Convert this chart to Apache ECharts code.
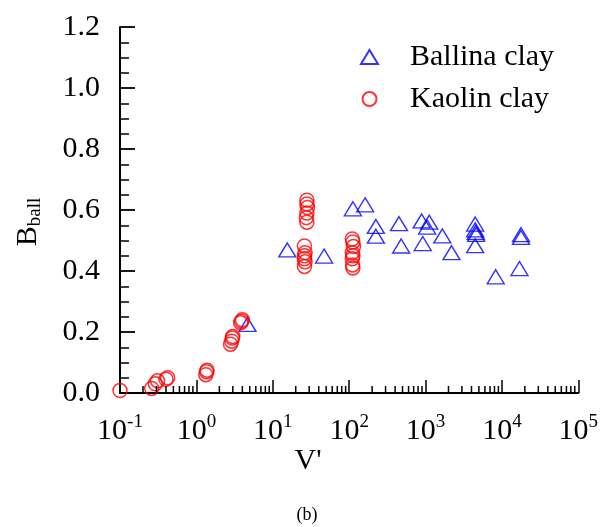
<!DOCTYPE html>
<html>
<head>
<meta charset="utf-8">
<script src="https://cdn.jsdelivr.net/npm/echarts@6/dist/echarts.min.js"></script>
<style>
  html, body { margin: 0; padding: 0; background: #fff; }
  #chart { width: 601px; height: 527px; }
</style>
</head>
<body>
<div id="chart"></div>
<script>
// Ballina clay: V' and B_ball
const ballinaV = [15.5, 47, 4.67, 112, 162, 224, 224, 450, 480, 890, 1120, 1050, 920, 1660, 2190,
                  4470, 4470, 4550, 4600, 4470, 8300, 17800, 17800, 17000];
const ballinaB = [0.469, 0.449, 0.225, 0.604, 0.617, 0.546, 0.514, 0.555, 0.482, 0.564, 0.560, 0.544, 0.490, 0.515, 0.460,
                  0.554, 0.535, 0.527, 0.520, 0.483, 0.381, 0.519, 0.510, 0.408];

// Kaolin clay: V' and B_ball
const kaolinV = [0.1, 0.26, 0.29, 0.31, 0.40, 0.42,
                 1.33, 1.36, 1.38,
                 2.8, 2.9, 2.95, 3.0,
                 3.8, 3.9, 4.0,
                 28, 28, 28.5, 28, 27.5, 28,
                 26, 26.5, 26, 26, 26.5, 26,
                 110, 112, 114, 110, 112, 110, 111, 112];
const kaolinB = [0.008, 0.015, 0.030, 0.040, 0.045, 0.050,
                 0.060, 0.070, 0.075,
                 0.160, 0.170, 0.180, 0.185,
                 0.230, 0.235, 0.240,
                 0.632, 0.620, 0.608, 0.590, 0.575, 0.560,
                 0.482, 0.460, 0.450, 0.440, 0.430, 0.415,
                 0.505, 0.495, 0.480, 0.460, 0.450, 0.440, 0.420, 0.410];

// x axis decade exponents shown as 10^n
const xExponents = ['-1', '0', '1', '2', '3', '4', '5'];
const yTickLabels = ['0.0', '0.2', '0.4', '0.6', '0.8', '1.0', '1.2'];

// intermediate log ticks 2..9 in every decade
const xMinorTicks = [];
for (let e = -1; e < 5; e++) {
  for (let m = 2; m <= 9; m++) xMinorTicks.push(m * Math.pow(10, e));
}

const serif = '"Liberation Serif", "DejaVu Serif", serif';
const pairs = (xs, ys) => xs.map((x, i) => [x, ys[i]]);

const chart = echarts.init(document.getElementById('chart'), null, { renderer: 'canvas' });

chart.setOption({
  animation: false,
  backgroundColor: '#fff',
  grid: { left: 120, right: 21, top: 27, bottom: 134, containLabel: false },
  xAxis: {
    type: 'log', logBase: 10, min: 0.1, max: 100000,
    axisLine: { show: true, lineStyle: { color: '#000', width: 2 } },
    axisTick: { show: true, inside: true, length: 13, lineStyle: { color: '#000', width: 1.5 } },
    minorTick: { show: false },
    splitLine: { show: false },
    axisLabel: {
      margin: 20,
      fontFamily: serif,
      color: '#000',
      formatter: function (v) {
        const idx = Math.round(Math.log10(v)) + 1;
        return '{b|10}{s|' + xExponents[idx] + '}';
      },
      rich: {
        b: { fontSize: 30, fontFamily: serif, color: '#000', verticalAlign: 'bottom' },
        s: { fontSize: 19, fontFamily: serif, color: '#000', verticalAlign: 'top', padding: [0, 0, 14, 0] }
      }
    }
  },
  yAxis: {
    type: 'value', min: 0, max: 1.2, interval: 0.2,
    axisLine: { show: true, lineStyle: { color: '#000', width: 2 } },
    axisTick: { show: true, inside: true, length: 15, lineStyle: { color: '#000', width: 1.8 } },
    minorTick: { show: true, splitNumber: 4, length: 9, lineStyle: { color: '#000', width: 1.5 } },
    splitLine: { show: false },
    axisLabel: {
      margin: 20, fontSize: 30, fontFamily: serif, color: '#000',
      formatter: function (v) { return yTickLabels[Math.round(v / 0.2)]; }
    }
  },
  legend: {
    orient: 'vertical',
    left: 355, top: 37,
    itemWidth: 17, itemHeight: 14,
    itemGap: 12,
    data: ['Ballina clay', 'Kaolin clay'],
    textStyle: { fontSize: 30, fontFamily: serif, color: '#000', padding: [0, 0, 0, 27] }
  },
  graphic: [
    {
      type: 'text', x: 308, y: 461,
      style: { text: "V'", font: '30px ' + serif, fill: '#000', align: 'center', verticalAlign: 'middle' }
    },
    {
      type: 'text', x: 307, y: 515,
      style: { text: '(b)', font: '18px ' + serif, fill: '#000', align: 'center', verticalAlign: 'middle' }
    },
    {
      type: 'text', x: 29, y: 222, rotation: Math.PI / 2,
      style: {
        text: '{B|B}{s|ball}', align: 'center', verticalAlign: 'middle',
        rich: {
          B: { fontSize: 30, fontFamily: serif, fill: '#000', verticalAlign: 'top' },
          s: { fontSize: 19, fontFamily: serif, fill: '#000', verticalAlign: 'bottom', padding: [12, 0, 0, 0] }
        }
      }
    }
  ],
  series: [
    {
      name: 'Ballina clay',
      type: 'scatter',
      symbol: 'triangle',
      symbolSize: [17, 14],
      itemStyle: { color: 'rgba(0,0,0,0)', borderColor: '#0000ff', borderWidth: 1.4 },
      data: pairs(ballinaV, ballinaB),
      z: 3
    },
    {
      name: 'Kaolin clay',
      type: 'scatter',
      symbol: 'circle',
      symbolSize: 14,
      itemStyle: { color: 'rgba(0,0,0,0)', borderColor: '#ff0000', borderWidth: 1.5 },
      data: pairs(kaolinV, kaolinB),
      z: 4
    },
    {
      // minor log ticks along the bottom axis
      type: 'custom',
      silent: true,
      clip: false,
      z: 5,
      data: xMinorTicks.map(v => [v, 0]),
      renderItem: function (params, api) {
        const p = api.coord([api.value(0), 0]);
        return {
          type: 'line',
          shape: { x1: p[0], y1: p[1], x2: p[0], y2: p[1] - 7 },
          style: { stroke: '#000', lineWidth: 1.5 }
        };
      }
    }
  ]
});
</script>
</body>
</html>
